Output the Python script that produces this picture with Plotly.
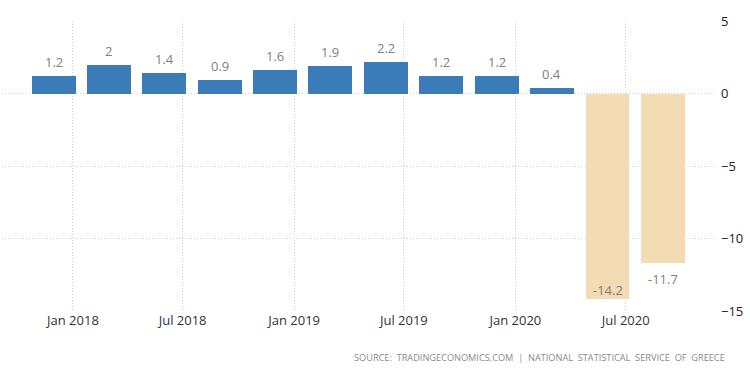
import plotly.graph_objects as go

dates = ["2017-12-01", "2018-03-01", "2018-06-01", "2018-09-01", "2018-12-01", "2019-03-01",
         "2019-06-01", "2019-09-01", "2019-12-01", "2020-03-01", "2020-06-01", "2020-09-01"]
values = [1.2, 2.0, 1.4, 0.9, 1.6, 1.9, 2.2, 1.2, 1.2, 0.4, -14.2, -11.7]
labels = ["1.2", "2", "1.4", "0.9", "1.6", "1.9", "2.2", "1.2", "1.2", "0.4", "-14.2", "-11.7"]
y_ticks = [5, 0, -5, -10, -15]

BLUE = "#3b7bb7"
BEIGE = "#f3dcb3"
colors = [BLUE if v >= 0 else BEIGE for v in values]

DAY_MS = 86400000
fig = go.Figure()
fig.add_trace(go.Bar(
    x=dates, y=values, width=[72.5 * DAY_MS] * len(values),
    marker=dict(color=colors, line=dict(width=0)),
    hoverinfo="skip",
))

ymin, ymax = -15, 5
plot_h = 290
px_per_unit = plot_h / (ymax - ymin)
annotations = []
for d, v, t in zip(dates, values, labels):
    if v >= 0:
        shift = 14
    else:
        shift = -16
        if (v - ymin) * px_per_unit < 22:
            shift = 9
    annotations.append(dict(
        x=d, y=v, xref="x", yref="y", text=t, showarrow=False,
        yshift=shift, yanchor="middle",
        font=dict(family="Open Sans", size=13, color="#808080"),
    ))

annotations.append(dict(
    xref="paper", yref="paper", x=1.0155, y=-0.159, xanchor="right", yanchor="middle",
    text="SOURCE:  TRADINGECONOMICS.COM  |  NATIONAL  STATISTICAL  SERVICE  OF  GREECE",
    showarrow=False, font=dict(family="Open Sans", size=9.2, color="#8a8a8a"),
))

GRID = "#cfcfcf"
fig.update_layout(
    width=750, height=373,
    margin=dict(l=2, r=34, t=21, b=62, autoexpand=False),
    paper_bgcolor="white", plot_bgcolor="white",
    showlegend=False,
    annotations=annotations,
    bargap=0,
)
fig.update_xaxes(
    type="date", range=["2017-09-06", "2020-11-27"],
    tick0="2018-01-01", dtick="M6", tickformat="%b %Y",
    showgrid=True, gridcolor=GRID, griddash="1px,2px", gridwidth=1,
    showline=False, zeroline=False, ticks="", automargin=False,
    tickfont=dict(family="Open Sans", size=13, color="#333333"),
)
fig.update_yaxes(
    range=[ymin, ymax], side="right", tickvals=y_ticks,
    showgrid=True, gridcolor=GRID, griddash="1px,2px", gridwidth=1,
    zeroline=False, showline=False, ticks="", automargin=False,
    tickfont=dict(family="Open Sans", size=13, color="#222222"),
    ticklabelstandoff=4,
)
fig.write_html("out.html", config={"displayModeBar": False},
               post_script="document.body.style.margin='0';")
